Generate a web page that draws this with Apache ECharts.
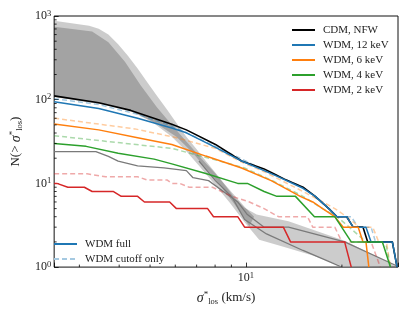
<!DOCTYPE html>
<html><head><meta charset="utf-8">
<script src="https://cdn.jsdelivr.net/npm/echarts@6/dist/echarts.min.js"></script>
<style>html,body{margin:0;padding:0;background:#fff}#c{width:415px;height:311px}</style>
</head><body><div id="c"></div>
<script>
// ---- data (x: sigma_los* in km/s, N: cumulative count) ----
const cdmX = [2.50,3.45,4.35,5.85,6.50,8.02,9.69,11.4,12.4,13.1,15.1,16.5,18.2,19.3,20.7,21.7,23.3,24.1,28.8,29.8];
const cdmN = [111,92,74.5,51,43.6,29.2,18.5,14.9,12.7,11.4,9,7,5,4,4,3,3,2,2,1];
const wdm12X = [2.50,3.45,4.57,5.85,6.50,8.02,9.69,11.4,12.4,15.1,16.5,18.2,19.3,20.7,21.7,23.8,24.7,28.8,29.8];
const wdm12N = [94.8,78.6,60.1,46.0,40.2,26.9,18.5,14.2,12.4,8.74,7,5,4,4,3,3,2,2,1];
const wdm6X = [2.50,3.45,4.57,5.85,7.48,9.69,12.0,14.8,16.2,17.4,19.0,20.2,22.5,23.3,23.8,24.3];
const wdm6N = [51.2,43.6,35.2,29.2,21.2,15.3,10.8,7,6,5,4,3,3,2,2,1];
const wdm4X = [2.50,3.15,3.97,5.15,5.85,7.48,9.42,10.1,11.4,12.5,14.3,16.4,19.0,21.4,26.8,28.4];
const wdm4N = [30.0,27.7,22.9,19.5,17.1,13.1,10,10,8,7,7,4,4,2,2,1];
const wdm2X = [2.50,2.55,2.76,3.11,3.29,3.84,4.06,4.57,4.80,5.76,6.05,7.58,7.91,9.42,9.90,13.1,13.8,20.4,21.4];
const wdm2N = [10,10,9,9,8,8,7,7,6,6,5,5,4,4,3,3,2,2,1];

const cut12X = [2.50,3.45,4.57,5.85,8.02,11.4,15.1,18.2,19.3,21.4,22.5,24.7,25.5,28.8,29.8];
const cut12N = [103,87.5,66.9,48.5,27.7,14.5,9,5,4,4,3,3,2,2,1];
const cut6X = [2.50,4.48,6.05,8.02,9.69,11.4,15.1,17.4,19.0,20.7,22.7,25.0,26.1,27.6,28.4];
const cut6N = [60.1,44.8,35.2,26.2,18.0,13.8,8,6,5,4,3,3,2,2,1];
const cut4X = [2.50,3.70,5.85,7.85,9.90,12.2,15.1,17.4,19.3,21.1,23.8,27.4,28.4];
const cut4N = [37.2,31.6,26.2,19.5,15.3,10.6,7,5,4,3,2,2,1];
const cut2X = [2.50,3.17,3.63,4.57,4.90,5.65,5.85,6.19,6.63,7.85,9.04,10.25,11.4,12.65,15.6,16.2,19.0,20.0,24.7,26.4];
const cut2N = [13,13,12,12,11,11,10,10,9,9,7,6,5,4,4,3,3,2,2,1];

const grayAX = [2.5,3.38,3.70,3.97,4.57,5.53,6.50,6.82,7.63,9.42,10.1,11.4,13.6,20.4,29.8];
const grayAN = [24,24,21,18.5,16.2,15.3,14.2,11.7,10.8,6,4.24,3,3,2,1.03];
const grayBX = [7.12,8.02,9.04,9.90,11.6,15.1,20.0];
const grayBN = [18.5,10.8,6.87,3.71,2.49,1.58,1];

const outerUpX = [2.5,3.22,3.45,3.70,3.97,4.26,4.57,4.90,5.26,5.65,6.05,6.50,6.97,7.48,8.02,8.60,9.23,9.90,10.8,13.6,20.4,30];
const outerUpN = [875,765,706,601,460,334,236,162,111,76.5,52.6,36.1,26.2,18.5,13.4,9.48,6.69,5.12,4.24,3.52,2.06,1.0];
const outerLoX = [2.5,3.70,4.41,5.08,5.85,6.50,7.22,8.02,8.91,9.90,11.0,13.1,16.2,20.0,30];
const outerLoN = [108,85.1,70.6,54.0,36.1,24.2,15.3,9.48,5.85,3.43,2.12,1.75,1.38,1.03,1];
const innerUpX = [2.5,3.29,3.70,4.17,4.67,5.26,5.93,6.50,7.22,8.02,8.91,9.90,10.6];
const innerUpN = [745,652,485,284,149,80.7,47.2,31.6,20.1,13.1,8.29,5.26,4];
const innerLoX = [2.5,3.70,4.41,5.26,6.05,6.73,7.48,8.30,9.23,10.25];
const innerLoN = [108,87.5,72.4,51.2,36.1,24.2,15.3,9.48,5.55,3.08];

const xMinorTicks = [3,4,5,6,7,8,9,20];
const yMinorTicks = [2,3,4,5,6,7,8,9,20,30,40,50,60,70,80,90,200,300,400,500,600,700,800,900];

const legendTop = ['CDM, NFW','WDM, 12 keV','WDM, 6 keV','WDM, 4 keV','WDM, 2 keV'];
const legendBottom = ['WDM full','WDM cutoff only'];

// ---- build ----
const FONT = 'Liberation Serif';
const pts = (xs, ns) => xs.map((x, i) => [x, ns[i]]);

function lineS(name, xs, ns, color, opts) {
  opts = opts || {};
  return {
    type: 'line', name: name, data: pts(xs, ns), symbol: 'none', showSymbol: false,
    animation: false, clip: true, z: opts.z || 4,
    lineStyle: {color: color, width: opts.width || 1.5, type: opts.dash ? [5, 3] : 'solid', opacity: opts.opacity == null ? 1 : opts.opacity},
    itemStyle: {color: color}
  };
}
function bandS(upX, upN, loX, loN, fill) {
  const poly = pts(upX, upN);
  for (let i = loX.length - 1; i >= 0; i--) poly.push([loX[i], loN[i]]);
  return {
    type: 'custom', silent: true, clip: true, z: 1, animation: false,
    data: [poly[0]],
    renderItem: (params, api) => ({type: 'polygon', shape: {points: poly.map(p => api.coord(p))}, style: {fill: fill}})
  };
}
function tickS(vals, isX) {
  return {
    type: 'custom', silent: true, clip: false, z: 10, animation: false,
    data: vals.map(v => isX ? [v, 1] : [2.5, v]),
    renderItem: (params, api) => {
      const c = api.coord([api.value(0), api.value(1)]);
      const shape = isX ? {x1: c[0], y1: c[1], x2: c[0], y2: c[1] - 2.5} : {x1: c[0], y1: c[1], x2: c[0] + 2.5, y2: c[1]};
      return {type: 'line', shape: shape, style: {stroke: '#000', lineWidth: 0.8}};
    }
  };
}
const powLabel = v => {
  const e = Math.round(Math.log10(v));
  if (Math.abs(v - Math.pow(10, e)) > 1e-6 * v) return '';
  return '{b|10}{s|' + e + '}';
};
const richTick = {
  b: {fontFamily: FONT, fontSize: 12, color: '#222', lineHeight: 14},
  s: {fontFamily: FONT, fontSize: 8.5, color: '#222', verticalAlign: 'top', lineHeight: 14, padding: [0, 0, 5, 0]}
};
const nameRich = {
  sig: {fontFamily: FONT, fontStyle: 'italic', fontSize: 14, color: '#222'},
  star: {fontFamily: FONT, fontSize: 9, color: '#222', padding: [0, 0, 7, 0]},
  sub: {fontFamily: FONT, fontSize: 8.5, color: '#222', padding: [7, 0, 0, 0]}
};

const chart = echarts.init(document.getElementById('c'), null, {renderer: 'canvas'});
chart.setOption({
  animation: false,
  backgroundColor: '#fff',
  grid: {left: 44, top: 16, right: 17, bottom: 37, show: true, borderColor: '#111', borderWidth: 1, backgroundColor: 'transparent'},
  xAxis: {
    type: 'log', logBase: 10, min: 2.5, max: 30,
    axisLine: {show: false}, splitLine: {show: false},
    axisTick: {show: true, inside: true, length: 4.5, lineStyle: {color: '#000', width: 0.8}},
    axisLabel: {formatter: powLabel, rich: richTick, margin: 4},
    name: '{sig|σ}{star|*}{sub|los} (km/s)', nameLocation: 'middle', nameGap: 12,
    nameTextStyle: {fontFamily: FONT, fontSize: 13, color: '#222', rich: nameRich}
  },
  yAxis: {
    type: 'log', logBase: 10, min: 1, max: 1000,
    axisLine: {show: false}, splitLine: {show: false},
    axisTick: {show: true, inside: true, length: 4.5, lineStyle: {color: '#000', width: 0.8}},
    axisLabel: {formatter: powLabel, rich: richTick, margin: 3},
    name: 'N(> {sig|σ}{star|*}{sub|los})', nameLocation: 'middle', nameGap: 24,
    nameTextStyle: {fontFamily: FONT, fontSize: 13, color: '#222', rich: nameRich}
  },
  legend: [
    {data: legendTop, orient: 'vertical', left: 291, top: 23.5, padding: 0, itemGap: 2, itemWidth: 23, itemHeight: 10,
     selectedMode: false, itemStyle: {opacity: 0}, lineStyle: {width: 2},
     textStyle: {fontFamily: FONT, fontSize: 11, color: '#222', lineHeight: 13, padding: [0, 0, 0, 3]}},
    {data: legendBottom, orient: 'vertical', left: 53, top: 237.5, padding: 0, itemGap: 2, itemWidth: 23, itemHeight: 10,
     selectedMode: false, itemStyle: {opacity: 0}, lineStyle: {width: 2},
     textStyle: {fontFamily: FONT, fontSize: 11, color: '#222', lineHeight: 13, padding: [0, 0, 0, 3]}}
  ],
  series: [
    bandS(outerUpX, outerUpN, outerLoX, outerLoN, 'rgba(0,0,0,0.2)'),
    bandS(innerUpX, innerUpN, innerLoX, innerLoN, 'rgba(0,0,0,0.2)'),
    lineS('grayA', grayAX, grayAN, '#7a7a7a', {z: 2, width: 1.3}),
    lineS('grayB', grayBX, grayBN, '#7a7a7a', {z: 2, width: 1.3}),
    lineS('cut12', cut12X, cut12N, '#1f77b4', {dash: true, opacity: 0.4, z: 3}),
    lineS('cut6', cut6X, cut6N, '#ff7f0e', {dash: true, opacity: 0.4, z: 3}),
    lineS('cut4', cut4X, cut4N, '#2ca02c', {dash: true, opacity: 0.4, z: 3}),
    lineS('cut2', cut2X, cut2N, '#d62728', {dash: true, opacity: 0.4, z: 3}),
    lineS('CDM, NFW', cdmX, cdmN, '#000000', {z: 4, width: 1.6}),
    lineS('WDM, 12 keV', wdm12X, wdm12N, '#1f77b4', {z: 5}),
    lineS('WDM, 6 keV', wdm6X, wdm6N, '#ff7f0e', {z: 6}),
    lineS('WDM, 4 keV', wdm4X, wdm4N, '#2ca02c', {z: 7}),
    lineS('WDM, 2 keV', wdm2X, wdm2N, '#d62728', {z: 8}),
    lineS('WDM full', [], [], '#1f77b4', {width: 2}),
    lineS('WDM cutoff only', [], [], '#a5c9e1', {dash: true}),
    tickS(xMinorTicks, true),
    tickS(yMinorTicks, false)
  ]
});
</script></body></html>
